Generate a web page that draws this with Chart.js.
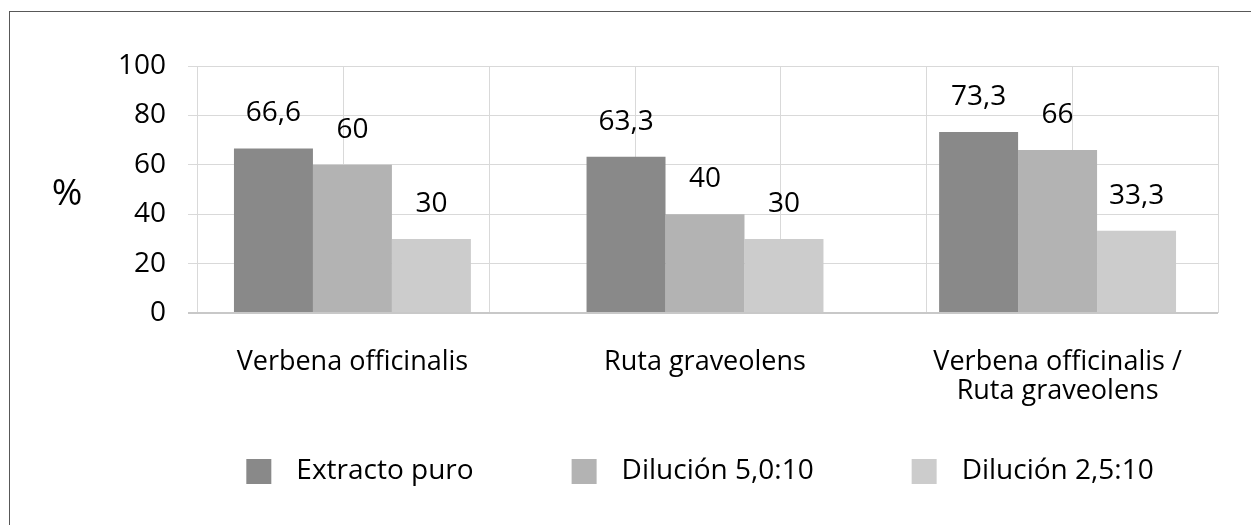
<!DOCTYPE html>
<html>
<head>
<meta charset="utf-8">
<script src="https://cdn.jsdelivr.net/npm/chart.js@4"></script>
<style>
html,body{margin:0;padding:0;background:#fff;overflow:hidden;width:1251px;height:525px;}
#frame{position:absolute;left:9px;top:11px;width:1400px;height:700px;border:1.5px solid #585858;box-sizing:border-box;}
#wrap{position:absolute;left:0;top:0;width:1251px;height:525px;}
</style>
</head>
<body>
<div id="frame"></div>
<div id="wrap"><canvas id="c" width="1251" height="525"></canvas></div>
<script>
// ---- data ----
const categories = [["Verbena officinalis"], ["Ruta graveolens"], ["Verbena officinalis /", "Ruta graveolens"]];
const seriesNames = ["Extracto puro", "Dilución 5,0:10", "Dilución 2,5:10"];
const extractoPuro = [66.6, 63.3, 73.3];
const dilucion50 = [60, 40, 66];
const dilucion25 = [30, 30, 33.3];
const yTicks = [0, 20, 40, 60, 80, 100];
const yTitle = "%";

// ---- styles ----
const colors = ['#898989', '#b3b3b3', '#cccccc'];
const FONT = '"Open Sans", "Noto Sans", sans-serif';
const fmt = v => String(v).replace('.', ',');

const seriesValues = [extractoPuro, dilucion50, dilucion25];

const datasets = seriesValues.map((vals, s) => ({
  label: seriesNames[s],
  data: vals.map((v, i) => ({ x: i, y: v })),
  backgroundColor: colors[s],
  borderWidth: 0,
  categoryPercentage: 0.672,
  barPercentage: 1.0,
  xAxisID: 'x',
  yAxisID: 'y'
}));

const valueLabels = {
  id: 'valueLabels',
  afterDatasetsDraw(chart) {
    const ctx = chart.ctx;
    ctx.save();
    ctx.font = '28px ' + FONT;
    ctx.fillStyle = '#000';
    ctx.textAlign = 'center';
    ctx.textBaseline = 'alphabetic';
    chart.data.datasets.forEach((ds, di) => {
      const meta = chart.getDatasetMeta(di);
      meta.data.forEach((bar, i) => {
        ctx.fillText(fmt(ds.data[i].y), bar.x, bar.y - 27);
      });
    });
    ctx.restore();
  }
};

const yTitlePlugin = {
  id: 'yTitlePlugin',
  afterDraw(chart) {
    const ctx = chart.ctx;
    const ys = chart.scales.y;
    ctx.save();
    ctx.font = '37px ' + FONT;
    ctx.fillStyle = '#000';
    ctx.textAlign = 'center';
    ctx.textBaseline = 'middle';
    ctx.fillText(yTitle, chart.chartArea.left - 131, ys.getPixelForValue(48));
    ctx.restore();
  }
};

const legendPlugin = {
  id: 'legendPlugin',
  afterDraw(chart) {
    const ctx = chart.ctx;
    const box = 25, gap = 25, spacing = 98;
    ctx.save();
    ctx.font = '28px ' + FONT;
    ctx.textBaseline = 'middle';
    ctx.textAlign = 'left';
    const items = chart.data.datasets.map(ds => ({ text: ds.label, color: ds.backgroundColor, w: ctx.measureText(ds.label).width }));
    let total = 0;
    items.forEach((it, i) => { total += box + gap + it.w + (i > 0 ? spacing : 0); });
    const ca = chart.chartArea;
    let x = (ca.left + ca.right) / 2 - 8 - total / 2;
    const yc = ca.bottom + 158.5;
    items.forEach(it => {
      ctx.fillStyle = it.color;
      ctx.fillRect(x, yc - box / 2, box, box);
      ctx.fillStyle = '#000';
      ctx.fillText(it.text, x + box + gap, yc);
      x += box + gap + it.w + spacing;
    });
    ctx.restore();
  }
};

function draw() {
  new Chart(document.getElementById('c'), {
    type: 'bar',
    data: { datasets },
    options: {
      responsive: false,
      animation: false,
      devicePixelRatio: 1,
      layout: { padding: { top: 66, right: 33, left: 0, bottom: 0 } },
      plugins: { legend: { display: false }, tooltip: { enabled: false } },
      scales: {
        x: {
          type: 'linear',
          position: 'bottom',
          offset: false,
          min: -0.438,
          max: 2.455,
          afterFit: s => { s.height = 212; },
          afterBuildTicks: s => { s.ticks = categories.map((c, i) => ({ value: i })); },
          ticks: {
            stepSize: 1,
            autoSkip: false,
            maxRotation: 0,
            includeBounds: false,
            padding: 35,
            color: '#000',
            font: { family: FONT, size: 27, lineHeight: '29px' },
            callback: v => categories[v]
          },
          grid: { display: false, drawTicks: false },
          border: { display: false }
        },
        xg: {
          type: 'linear',
          position: 'bottom',
          min: 0,
          max: 6,
          afterFit: s => { s.height = 0; },
          ticks: { display: false, stepSize: 1 },
          grid: { color: '#d9d9d9', lineWidth: 1, drawTicks: false },
          border: { display: false }
        },
        y: {
          type: 'linear',
          min: 0,
          max: 100,
          afterFit: s => { s.width = 198; },
          afterBuildTicks: s => { s.ticks = yTicks.map(v => ({ value: v })); },
          ticks: {
            stepSize: 20,
            padding: 22,
            color: '#000',
            font: { family: FONT, size: 28 }
          },
          grid: {
            tickLength: 10,
            color: c => (c.tick && c.tick.value === 0) ? '#c8c8c8' : '#d9d9d9',
            lineWidth: c => (c.tick && c.tick.value === 0) ? 2 : 1
          },
          border: { display: false }
        }
      }
    },
    plugins: [valueLabels, yTitlePlugin, legendPlugin]
  });
}

if (document.fonts && document.fonts.load) {
  Promise.all([
    document.fonts.load('27px "Open Sans"'),
    document.fonts.load('28px "Open Sans"')
  ]).then(draw, draw);
} else {
  draw();
}
</script>
</body>
</html>
